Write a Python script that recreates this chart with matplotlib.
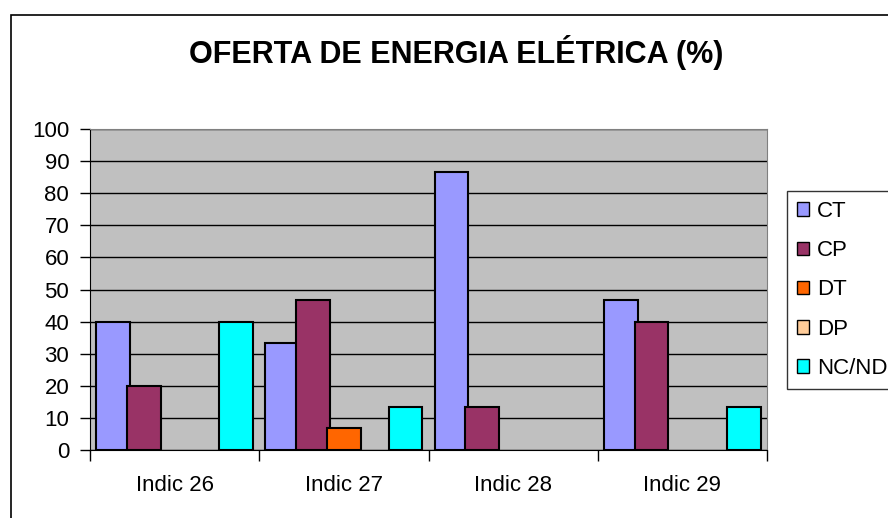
import numpy as np
import matplotlib
matplotlib.use('Agg')
import matplotlib.pyplot as plt
from matplotlib.patches import Rectangle, Patch

plt.rcParams['font.family'] = ['Liberation Sans', 'DejaVu Sans']

#data
categories = ['Indic 26', 'Indic 27', 'Indic 28', 'Indic 29']
series_names = ['CT', 'CP', 'DT', 'DP', 'NC/ND']
ct = [40, 33.3, 86.7, 46.7]
cp = [20, 46.7, 13.3, 40]
dt = [0, 6.7, 0, 0]
dp = [0, 0, 0, 0]
nc = [40, 13.3, 0, 13.3]
colors = ['#9999FF', '#993366', '#FF6600', '#FFCC99', '#00FFFF']

fig = plt.figure(figsize=(8.88, 5.18), dpi=100)
#outer chart frame (goes past the right and bottom edge)
fig.patches.append(Rectangle((11/888, -0.1), 1.2, (518-15)/518 + 0.1,
                             transform=fig.transFigure, fill=False,
                             edgecolor='black', linewidth=1.2))

ax = fig.add_axes([90/888, (518-450)/518, (767-90)/888, (450-129)/518])
ax.set_facecolor('#C0C0C0')

x = np.arange(len(categories))
step = 0.182
width = 0.2
handles = []
for i, (name, vals) in enumerate(zip(series_names, [ct, cp, dt, dp, nc])):
    vals = np.array(vals, dtype=float)
    b = ax.bar(x + (i - 2) * step, vals, width, color=colors[i],
               edgecolor='black', linewidth=1.5, zorder=3)
    #hide the outline of empty bars
    for rect, v in zip(b, vals):
        if v == 0:
            rect.set_visible(False)
    handles.append(Patch(facecolor=colors[i], edgecolor='black', linewidth=1))

ax.set_xlim(-0.5, 3.5)
ax.set_ylim(0, 100)
ax.set_yticks(range(0, 101, 10))
ax.yaxis.grid(True, color='black', linewidth=1, zorder=1)
ax.set_axisbelow(True)

#x ticks at group boundaries, labels at group centers
ax.set_xticks(np.arange(-0.5, 4, 1))
ax.set_xticklabels([])
ax.set_xticks(x, minor=True)
ax.set_xticklabels(categories, minor=True)
ax.tick_params(axis='x', which='minor', length=0, pad=18, labelsize=16)
ax.tick_params(axis='x', which='major', length=8, width=1, color='black', direction='out')
ax.tick_params(axis='y', length=7, width=1, labelsize=16, pad=8, direction='out')

for side in ['top', 'right']:
    ax.spines[side].set_color('#808080')
for side in ['left', 'bottom']:
    ax.spines[side].set_color('black')

fig.text(456/888, 1 - 53/518, 'OFERTA DE ENERGIA ELÉTRICA (%)',
         ha='center', va='center', fontsize=22, fontweight='bold')

leg = fig.legend(handles=handles, labels=series_names,
                 loc='upper left', bbox_to_anchor=(787/888, 1 - 191/518),
                 frameon=True, fancybox=False, edgecolor='black',
                 fontsize=16, handlelength=0.55, handleheight=0.55,
                 handletextpad=0.35, labelspacing=0.82, borderpad=0.45,
                 borderaxespad=0)
leg.get_frame().set_linewidth(1)

fig.savefig('out.png', dpi=100)
